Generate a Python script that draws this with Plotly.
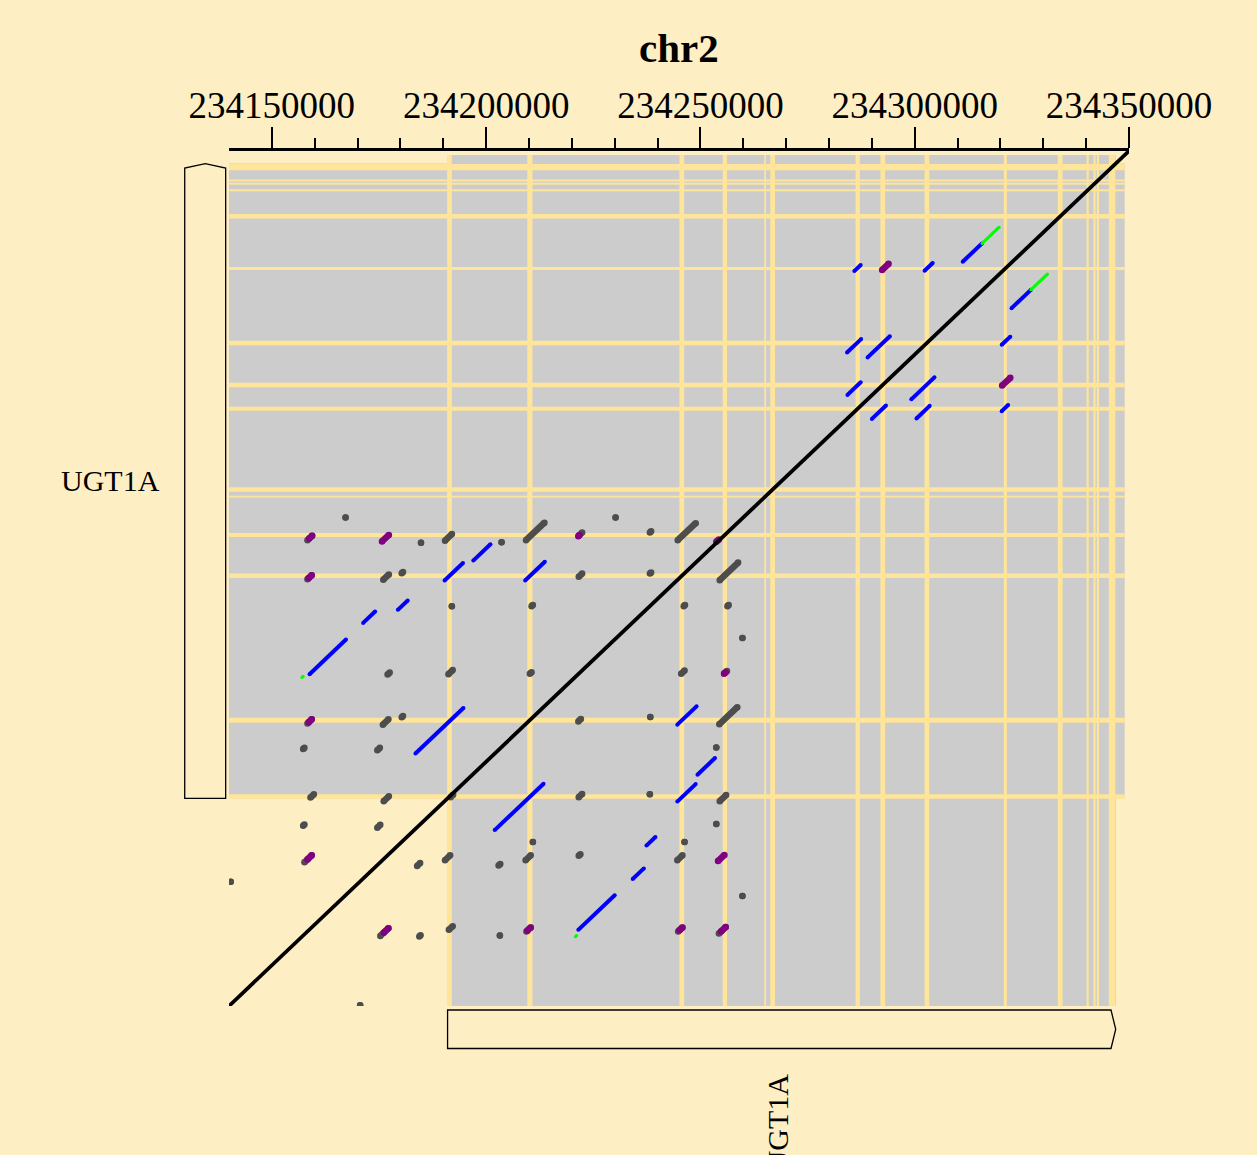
import plotly.graph_objects as go

# ---------------- data ----------------
CHROM = "chr2"
AXIS_RANGE = [234140000, 234350000]
MAJOR_TICKS = [234150000, 234200000, 234250000, 234300000, 234350000]
MAJOR_LABELS = ["234150000", "234200000", "234250000", "234300000", "234350000"]
MINOR_TICKS = [234160000, 234170000, 234180000, 234190000,
               234210000, 234220000, 234230000, 234240000,
               234260000, 234270000, 234280000, 234290000,
               234310000, 234320000, 234330000, 234340000]

GENE_NAME = "UGT1A"
GENE_START = 234191000
GENE_END = 234346900
BAND_END = 234349000

EXON_START = [234190900, 234209600, 234245100, 234255200, 234264900, 234266300,
              234286200, 234292000, 234302300, 234320800, 234333400, 234340100,
              234341700, 234342500, 234345300]
EXON_END = [234192000, 234210800, 234246200, 234256200, 234265300, 234267400,
            234287200, 234293100, 234303400, 234321500, 234334500, 234340600,
            234342200, 234343000, 234346800]

# match segments: start on x, start on y, length (bp)
GRAY_X = [234167200, 234158300, 234184800, 234190400, 234203600, 234209300, 234221600,
          234230200, 234238200, 234244700, 234158300, 234176000, 234180300, 234221600,
          234238200, 234254500, 234192000, 234210600, 234246100, 234256300, 234259800,
          234177000, 234191200, 234210200, 234245500, 234255600, 234158300, 234175900,
          234180300, 234221500, 234238300, 234254400, 234157300, 234174600, 234253700,
          234159000, 234176100, 234191700, 234221600, 234238200, 234254500, 234157300,
          234174600, 234210900, 234246300, 234253700, 234157600, 234183900, 234190400,
          234202900, 234209200, 234221600, 234244600, 234140400, 234259800, 234175300,
          234184400, 234191300, 234203200, 234209400, 234244800, 234254300, 234170600]
GRAY_Y = [234260000, 234254400, 234253800, 234254300, 234253900, 234254400, 234255500,
          234260000, 234256300, 234254400, 234244800, 234244700, 234246300, 234245400,
          234246200, 234244600, 234238200, 234238200, 234238200, 234238200, 234230400,
          234221400, 234221500, 234221600, 234221600, 234221700, 234209400, 234209100,
          234210900, 234209900, 234211000, 234209200, 234203100, 234202800, 234203500,
          234191200, 234190300, 234191300, 234191300, 234192000, 234190300, 234184300,
          234183800, 234180300, 234180300, 234184700, 234175300, 234174400, 234175800,
          234174500, 234175800, 234176900, 234175800, 234170500, 234167000, 234157200,
          234157100, 234158700, 234157300, 234158300, 234158300, 234157800, 234140200]
GRAY_LEN = [0, 1100, 0, 1600, 0, 4300, 800,
            0, 300, 4200, 1000, 1300, 300, 800,
            300, 4300, 0, 300, 300, 300, 0,
            500, 1000, 400, 800, 600, 1000, 1300,
            300, 600, 0, 4200, 300, 600, 0,
            800, 1200, 600, 800, 0, 1500, 300,
            700, 0, 0, 0, 1700, 700, 1200,
            400, 1200, 400, 1200, 0, 0, 1900,
            300, 900, 0, 1000, 1000, 1600, 0]

PURPLE_X = [234292400, 234320400, 234175700, 234158700, 234221500, 234253700, 234158600,
            234255500, 234158600, 234158300, 234254100, 234176100, 234209600, 234245100,
            234254800]
PURPLE_Y = [234320800, 234292400, 234254100, 234254800, 234255400, 234254000, 234245100,
            234221600, 234209700, 234176000, 234175600, 234158000, 234158500, 234158600,
            234158300]
PURPLE_LEN = [1500, 1900, 1600, 700, 300, 600, 700,
              400, 700, 1000, 1500, 1100, 800, 700,
              1100]

BLUE_X = [234285900, 234302300, 234311200, 234322600, 234284200, 234289000, 234320300,
          234284300, 234299200, 234290000, 234300400, 234320300, 234197000, 234190300,
          234209100, 234179400, 234171300, 234158800, 234183500, 234244600, 234249300,
          234202000, 234244600, 234237400, 234234200, 234221500]
BLUE_Y = [234320500, 234320600, 234322800, 234311400, 234300500, 234299300, 234302400,
          234290100, 234289000, 234284200, 234284300, 234286100, 234249400, 234244500,
          234244500, 234237300, 234234100, 234221500, 234202000, 234209100, 234196800,
          234183200, 234190200, 234179400, 234171200, 234158700]
BLUE_LEN = [1500, 1900, 4500, 4500, 3300, 5200, 2000,
            3100, 5400, 3300, 3100, 1500, 4000, 4300,
            4600, 2300, 2800, 8500, 11200, 4500, 4100,
            11400, 4300, 2100, 2600, 8500]

GREEN_X = [234315700, 234327100, 234157000, 234220800]
GREEN_Y = [234327300, 234315900, 234220700, 234157000]
GREEN_LEN = [4000, 3900, 300, 300]

# ---------------- style ----------------
BG = "#FEEEC4"
BAND = "#CCCCCC"
EXON = "#FFE599"
SERIF = "Liberation Serif, Times New Roman, serif"


def seg_xy(xs, ys, lens):
    X, Y = [], []
    for x, y, l in zip(xs, ys, lens):
        X += [x, x + l, None]
        Y += [y, y + l, None]
    return X, Y


fig = go.Figure()
for xs, ys, ls, col, w in [
    (GRAY_X, GRAY_Y, GRAY_LEN, "#4D4D4D", 6.5),
    (PURPLE_X, PURPLE_Y, PURPLE_LEN, "#800080", 6.5),
    (BLUE_X, BLUE_Y, BLUE_LEN, "#0000FF", 4),
    (GREEN_X, GREEN_Y, GREEN_LEN, "#00FF00", 3),
]:
    X, Y = seg_xy(xs, ys, ls)
    fig.add_trace(go.Scatter(x=X, y=Y, mode="lines+markers",
                             line=dict(color=col, width=w),
                             marker=dict(color=col, size=w, line=dict(width=0)),
                             hoverinfo="skip", showlegend=False))

# self alignment diagonal
fig.add_trace(go.Scatter(x=AXIS_RANGE, y=AXIS_RANGE, mode="lines",
                         line=dict(color="black", width=3.8),
                         hoverinfo="skip", showlegend=False))

shapes = [
    dict(type="rect", xref="x", yref="y", x0=AXIS_RANGE[0], x1=BAND_END,
         y0=GENE_START, y1=GENE_END, fillcolor=BAND, line=dict(width=0), layer="below"),
    dict(type="rect", xref="x", yref="y", x0=GENE_START, x1=GENE_END,
         y0=AXIS_RANGE[0], y1=BAND_END, fillcolor=BAND, line=dict(width=0), layer="below"),
]
for s, e in zip(EXON_START, EXON_END):
    shapes.append(dict(type="rect", xref="x", yref="y", x0=s, x1=e,
                       y0=AXIS_RANGE[0], y1=BAND_END, fillcolor=EXON,
                       line=dict(width=0), layer="below"))
    shapes.append(dict(type="rect", xref="x", yref="y", x0=AXIS_RANGE[0], x1=BAND_END,
                       y0=s, y1=e, fillcolor=EXON, line=dict(width=0), layer="below"))

# gene arrows (y: pointing up on the left; x: pointing right at the bottom)
ARROW = 1100
xl, xr, xc = -0.0492, -0.0037, -0.0264
shapes.append(dict(
    type="path", xref="paper", yref="y",
    path=f"M {xl},{GENE_START} L {xl},{GENE_END - ARROW} L {xc},{GENE_END} "
         f"L {xr},{GENE_END - ARROW} L {xr},{GENE_START} Z",
    fillcolor=BG, line=dict(color="black", width=1.3)))
yt, yb, ym = -0.0047, -0.0497, -0.0272
shapes.append(dict(
    type="path", xref="x", yref="paper",
    path=f"M {GENE_START},{yt} L {GENE_END - ARROW},{yt} L {GENE_END},{ym} "
         f"L {GENE_END - ARROW},{yb} L {GENE_START},{yb} Z",
    fillcolor=BG, line=dict(color="black", width=1.3)))

annotations = [
    dict(text=f"<b>{CHROM}</b>", xref="paper", yref="paper", x=0.5, y=1.121,
         xanchor="center", yanchor="middle", showarrow=False,
         font=dict(family=SERIF, size=41, color="black")),
    dict(text=GENE_NAME, xref="paper", yref="y", x=-0.0748,
         y=(GENE_START + GENE_END) / 2, xanchor="right", yanchor="middle",
         showarrow=False, font=dict(family=SERIF, size=30, color="black")),
    dict(text=GENE_NAME, xref="x", yref="paper", x=(GENE_START + GENE_END) / 2,
         y=-0.0762, xanchor="center", yanchor="top", textangle=-90, xshift=-4,
         showarrow=False, font=dict(family=SERIF, size=30, color="black")),
]

fig.update_layout(
    width=1257, height=1155,
    margin=dict(l=221, r=136, t=143, b=157, autoexpand=False),
    paper_bgcolor=BG, plot_bgcolor=BG,
    showlegend=False,
    shapes=shapes, annotations=annotations,
    xaxis=dict(range=AXIS_RANGE, side="top", tickmode="array",
               tickvals=MAJOR_TICKS, ticktext=MAJOR_LABELS,
               ticks="outside", ticklen=21, tickwidth=2, tickcolor="black",
               ticklabelstandoff=-6,
               showline=True, linewidth=2.5, linecolor="black",
               showgrid=False, zeroline=False,
               tickfont=dict(family=SERIF, size=37, color="black"),
               minor=dict(tickmode="array", tickvals=MINOR_TICKS, ticks="outside",
                          ticklen=10, tickwidth=2, tickcolor="black", showgrid=False)),
    yaxis=dict(range=AXIS_RANGE, visible=False, showgrid=False, zeroline=False),
)

fig.write_html("out.html",
               post_script=f"document.body.style.backgroundColor='{BG}';")
